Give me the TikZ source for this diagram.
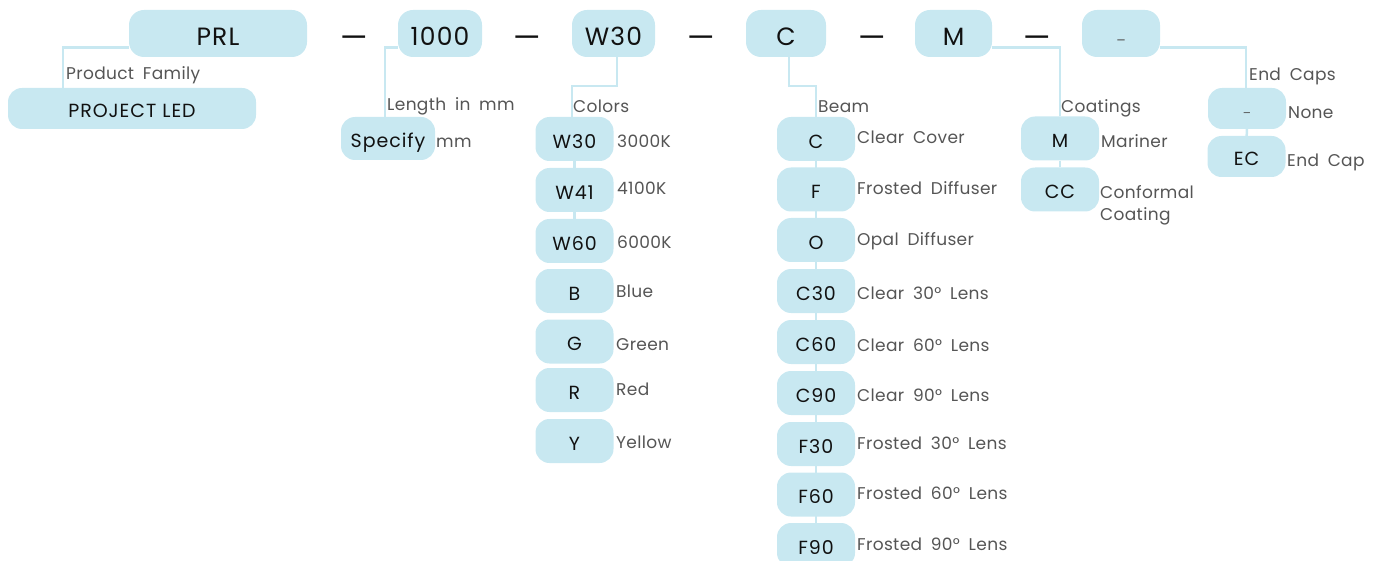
\documentclass[tikz,border=0pt]{standalone}
\usepackage{fontspec}
\setmainfont{Poppins}
\newfontfamily\codefont[LetterSpace=5]{Poppins}
\newfontfamily\descfont[LetterSpace=2,WordSpace=1.8]{Poppins}
\usepackage{tikz}
\usetikzlibrary{backgrounds}
\definecolor{boxblue}{HTML}{C8E8F1}
\definecolor{textgray}{HTML}{555555}
\definecolor{codeblack}{HTML}{111111}
\tikzset{
  topbox/.style={fill=boxblue,rounded corners=15pt,minimum height=47pt,inner sep=0pt,
    text=codeblack,font=\codefont\fontsize{25}{25}\selectfont,text height=25pt,text depth=0pt},
  optbox/.style={fill=boxblue,rounded corners=14pt,minimum width=78pt,minimum height=44pt,
    inner sep=0pt,text=codeblack,font=\codefont\fontsize{19}{19}\selectfont,text height=18.5pt,text depth=0pt},
  desc/.style={anchor=base west,inner sep=0pt,text=textgray,font=\descfont\fontsize{17}{22}\selectfont},
  joiner/.style={inner sep=0pt,text=codeblack,font=\fontsize{31}{31}\selectfont},
  link/.style={draw=boxblue,line width=2.5pt},
}

\begin{document}
\begin{tikzpicture}[x=1pt,y=-1pt]
  \clip (0,0) rectangle (1375,561);
  % part number
  \node[topbox,minimum width=178pt] (prl) at (218,33.5) {PRL};
  \node[joiner] (d1) at (354,42) {—};
  \node[topbox,minimum width=84pt] (len) at (440,33.5) {1000};
  \node[joiner] (d2) at (527,42) {—};
  \node[topbox,minimum width=83pt] (col) at (613.5,33.5) {W30};
  \node[joiner] (d3) at (701,42) {—};
  \node[topbox,minimum width=80pt] (beam) at (786,33.5) {C};
  \node[joiner] (d4) at (872,42) {—};
  \node[topbox,minimum width=77pt] (coat) at (953.5,33.5) {M};
  \node[joiner] (d5) at (1037,42) {—};
  \node[topbox,minimum width=78pt,text=textgray,font=\fontsize{14}{14}\selectfont] (cap) at (1121,33.5) {–};

  % family
  \node[desc] (lfam) at (66,80) {Product Family};
  \node[optbox,minimum width=248pt,minimum height=41pt] (pled) at (132,108.5) {PROJECT LED};

  % length
  \node[desc] (llen) at (387,111) {Length in mm};
  \node[optbox,minimum width=94pt,minimum height=43pt] (spec) at (388,138.5) {Specify};
  \node[desc] (mm) at (436,148) {mm};

  % colors
  \node[desc] (lcol) at (573,113) {Colors};
  \node[optbox] (c1) at (574.5,139) {W30};
  \node[optbox] (c2) at (574.5,190) {W41};
  \node[optbox] (c3) at (574.5,241) {W60};
  \node[optbox] (c4) at (574.5,291) {B};
  \node[optbox] (c5) at (574.5,341.5) {G};
  \node[optbox] (c6) at (574.5,390) {R};
  \node[optbox] (c7) at (574.5,441) {Y};
  \node[desc] at (617,148) {3000K};
  \node[desc] at (617,195) {4100K};
  \node[desc] at (617,248) {6000K};
  \node[desc] at (616,297) {Blue};
  \node[desc] at (616,350) {Green};
  \node[desc] at (616,395) {Red};
  \node[desc] at (616,448) {Yellow};

  % beam
  \node[desc] (lbeam) at (818,113) {Beam};
  \node[optbox] (b1) at (816,139) {C};
  \node[optbox] (b2) at (816,189.5) {F};
  \node[optbox] (b3) at (816,240) {O};
  \node[optbox] (b4) at (816,291) {C30};
  \node[optbox] (b5) at (816,342) {C60};
  \node[optbox] (b6) at (816,393) {C90};
  \node[optbox] (b7) at (816,444) {F30};
  \node[optbox] (b8) at (816,494.5) {F60};
  \node[optbox] (b9) at (816,545) {F90};
  \node[desc] at (857,144) {Clear Cover};
  \node[desc] at (857,195) {Frosted Diffuser};
  \node[desc] at (857,246) {Opal Diffuser};
  \node[desc] at (857,299) {Clear 30° Lens};
  \node[desc] at (857,351) {Clear 60° Lens};
  \node[desc] at (857,401) {Clear 90° Lens};
  \node[desc] at (857,449) {Frosted 30° Lens};
  \node[desc] at (857,499) {Frosted 60° Lens};
  \node[desc] at (857,550) {Frosted 90° Lens};

  % coatings
  \node[desc] (lcoat) at (1061,113) {Coatings};
  \node[optbox] (m1) at (1060,138.5) {M};
  \node[optbox] (m2) at (1060,189.5) {CC};
  \node[desc] at (1101,148) {Mariner};
  \node[desc,align=left] at (1100,221) {Conformal\\Coating};

  % end caps
  \node[desc] (lcap) at (1249,81) {End Caps};
  \node[optbox,minimum height=41pt] (e1) at (1247,108.5)
    {\textcolor{textgray}{\fontsize{12}{12}\selectfont –}};
  \node[optbox,minimum height=41pt] (e2) at (1246.5,156.5) {EC};
  \node[desc] at (1288,119) {None};
  \node[desc] at (1287,167) {End Cap};

  \begin{scope}[on background layer]
    \draw[link] ([yshift=-14pt]prl.west) -| ([xshift=55pt]pled.north west);
    \draw[link] ([yshift=-14pt]len.west) -| ([xshift=44pt]spec.north west);
    \draw[link] ([xshift=3.5pt]col.south) -- ++(0,29) -| ([xshift=-2.5pt]c1.north);
    \draw[link] (c1) -- (c2) -- (c3);
    \draw[link] ([xshift=3pt]beam.south) -- ++(0,29) -| (b1.north);
    \draw[link] (b1) -- (b9);
    \draw[link] ([yshift=-14pt]coat.east) -| (m1.north);
    \draw[link] (m1) -- (m2);
    \draw[link] ([yshift=-14pt]cap.east) -| ([xshift=-1pt]e1.north);
    \draw[link] (e1) -- (e2);
  \end{scope}
\end{tikzpicture}
\end{document}
